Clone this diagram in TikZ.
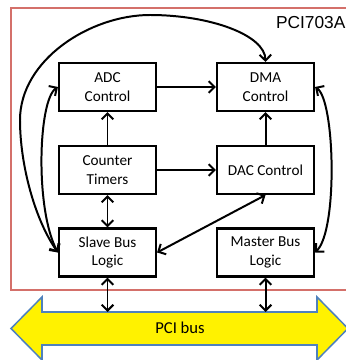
\documentclass[tikz,border=0pt]{standalone}
\usepackage{fontspec}
\setmainfont{Carlito}
\newfontfamily\arialfont{Liberation Sans}
\usetikzlibrary{arrows.meta}

\definecolor{boardred}{RGB}{212,112,106}
\definecolor{busblue}{RGB}{79,129,189}

\begin{document}
\begin{tikzpicture}[
    every node/.style={font=\fontsize{13}{16}\selectfont},
    >={Straight Barb[length=5pt,width=10pt]},
    block/.style={
        draw=black,
        line width=1.8pt,
        fill=white,
        align=center,
        minimum width=2.91cm,
        minimum height=1.44cm
    },
    link/.style={line width=1.7pt},
    board/.style={draw=boardred, line width=1.3pt},
    busarrow/.style={draw=busblue, fill=yellow, line width=1.3pt, line join=miter}
]
\useasboundingbox (0,0) rectangle (10.35,10.8);

% ---------- board outline ----------
\draw[board] (0.33,2.1) rectangle (10.7,10.56);
\node[anchor=east, inner sep=0pt, font=\arialfont\fontsize{14.8}{16}\selectfont] (board) at (10.37,10.11) {PCI703A};

% ---------- function blocks ----------
\node[block] (adc)     at (3.225,8.19) {ADC\\Control};
\node[block] (dma)     at (7.965,8.19) {DMA\\Control};
\node[block] (counter) at (3.225,5.70) {Counter\\Timers};
\node[block] (dac)     at (7.965,5.70) {DAC Control};
\node[block] (slave)   at (3.225,3.225) {Slave Bus\\Logic};
\node[block] (master)  at (7.965,3.225) {Master Bus\\Logic};

% ---------- PCI bus (double arrow) ----------
\draw[busarrow] (0.33,0.945) -- (1.26,1.89) -- (1.26,1.44) -- (9.51,1.44) -- (9.51,1.89)
    -- (10.44,0.945) -- (9.51,0) -- (9.51,0.45) -- (1.26,0.45) -- (1.26,0) -- cycle;
\node[font=\fontsize{14.2}{16}\selectfont] (bus) at (5.4,0.96) {PCI bus};
\coordinate (bustop) at (5.4,1.44);

% ---------- straight links ----------
\draw[link,->] (adc) -- (dma);
\draw[link,->] (counter) -- (dac);
\draw[link,->] (counter) -- (adc);
\draw[link,->] (dac) -- (dma);
\draw[link,<->] (counter) -- (slave);
\draw[link,<->] (slave.east) -- (dac.south);
\draw[link,<->] (slave.south) -- (slave.south |- bustop);
\draw[link,<->] (master.south) -- (master.south |- bustop);

% ---------- curved links ----------
\draw[link,<->] (slave.west) .. controls (1.05,4.2) and (0.6,5.85) .. (0.6,7.2)
    .. controls (0.6,9.0) and (2.7,10.35) .. (4.5,10.35)
    .. controls (6.3,10.35) and (7.95,9.75) .. (dma.north);
\draw[link,<->] (slave.west) .. controls (1.05,4.5) and (1.14,7.8) .. (adc.west);
\draw[link,<->] (dma.east) .. controls (10.05,7.8) and (10.14,3.9) .. (master.east);

\end{tikzpicture}
\end{document}
